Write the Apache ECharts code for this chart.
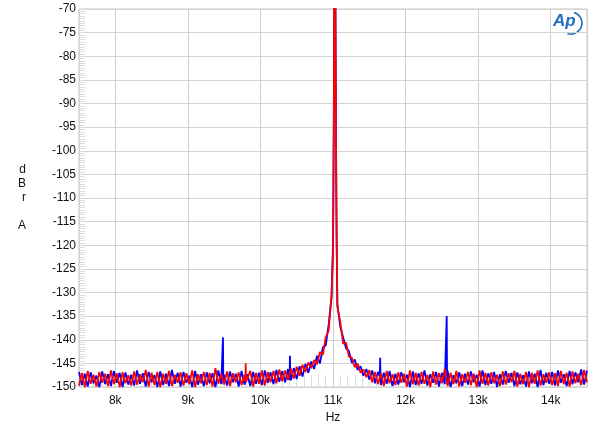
<!DOCTYPE html>
<html>
<head>
<meta charset="utf-8">
<script src="https://cdn.jsdelivr.net/npm/echarts/dist/echarts.min.js"></script>
<style>
html,body{margin:0;padding:0;background:#fff;}
#chart{width:600px;height:433px;}
</style>
</head>
<body>
<div id="chart"></div>
<script>
// FFT bin grid (Hz)
const binStart = 7500;
const binStep = 40;

// Blue channel levels (dBrA) per bin, 7500 .. 14500 Hz
const blueLevels = [
  -146.8, -149.6, -147.2, -149.9, -146.9, -149.2, -147.6, -150.0, -146.7, -149.4,
  -147.3, -149.8, -146.6, -149.1, -147.0, -150.0, -146.9, -149.5, -147.4, -149.7,
  -146.5, -149.3, -147.1, -149.9, -146.8, -149.0, -147.5, -150.0, -146.7, -149.6,
  -147.2, -149.8, -146.4, -149.3, -147.0, -149.9, -146.8, -149.1, -147.6, -150.0,
  -146.6, -149.5, -147.3, -149.8, -146.9, -149.2, -147.1, -150.0, -146.5, -149.4,
  -147.4, -149.7, -146.7, -149.0, -147.2, -149.9, -146.6, -149.5, -147.3, -149.8,
  -146.8, -149.3, -147.0, -149.6, -146.5, -149.1, -146.9, -149.4, -146.4, -148.9,
  -146.6, -149.0, -146.2, -148.6, -146.0, -148.3, -145.6, -147.8, -145.1, -147.0,
  -144.6, -146.2, -143.4, -145.0, -141.6, -141.2, -136.8, -131.0, -60.0, -132.5,
  -137.2, -139.5, -141.8, -142.4, -144.9, -144.2, -146.4, -145.6, -147.6, -146.2,
  -148.4, -146.5, -149.2, -146.8, -149.6, -147.0, -149.3, -146.6, -149.8, -147.2,
  -149.5, -146.9, -149.0, -147.4, -150.0, -146.7, -149.6, -147.1, -149.3, -146.5,
  -149.7, -147.3, -149.1, -146.8, -149.9, -147.0, -149.4, -146.6, -150.0, -147.5,
  -149.2, -146.9, -149.8, -147.2, -149.5, -146.7, -149.0, -147.4, -149.9, -146.5,
  -149.6, -147.1, -149.3, -146.8, -150.0, -147.3, -149.5, -146.6, -149.1, -147.0,
  -149.8, -146.9, -149.4, -147.5, -149.9, -146.7, -149.2, -147.2, -150.0, -146.4,
  -149.6, -147.0, -149.3, -146.8, -149.7, -146.5, -149.1, -147.3, -149.8, -146.6,
  -149.4, -146.9, -149.0, -146.3, -149.5, -146.5
];

// Red channel levels (dBrA) per bin, 7500 .. 14500 Hz
const redLevels = [
  -149.7, -147.0, -150.0, -146.6, -149.3, -147.4, -149.9, -146.8, -149.1, -147.2,
  -149.8, -146.5, -149.4, -147.1, -150.0, -146.9, -149.2, -147.5, -149.7, -146.7,
  -149.5, -147.3, -149.0, -146.4, -149.9, -147.0, -149.6, -146.8, -150.0, -147.2,
  -149.3, -146.6, -149.8, -147.4, -149.1, -146.9, -149.7, -147.1, -149.4, -146.5,
  -150.0, -147.3, -149.2, -146.8, -149.6, -147.0, -149.9, -146.0, -149.3, -147.2,
  -149.5, -146.7, -149.8, -147.1, -149.0, -146.9, -149.6, -147.4, -149.2, -146.6,
  -149.9, -147.0, -149.3, -146.5, -149.7, -146.8, -149.0, -146.6, -149.2, -146.3,
  -148.8, -146.5, -148.5, -146.1, -148.2, -145.7, -147.6, -145.3, -146.8, -144.8,
  -146.0, -144.3, -145.2, -142.6, -143.2, -139.5, -138.0, -130.5, -60.0, -133.0,
  -136.2, -140.8, -140.6, -143.6, -143.8, -145.8, -145.1, -147.0, -146.3, -147.9,
  -146.4, -149.0, -146.8, -149.4, -147.1, -149.8, -146.6, -149.2, -147.3, -149.6,
  -146.9, -149.1, -147.2, -149.9, -146.5, -149.4, -147.0, -149.7, -146.8, -149.3,
  -147.4, -150.0, -146.7, -149.5, -147.1, -149.2, -146.2, -149.8, -147.0, -149.4,
  -146.6, -149.9, -147.3, -149.1, -146.8, -149.6, -147.2, -150.0, -146.5, -149.3,
  -147.0, -149.7, -146.9, -149.2, -147.4, -149.8, -146.7, -149.5, -147.1, -149.0,
  -146.6, -149.9, -147.2, -149.4, -146.8, -150.0, -147.0, -149.3, -146.5, -149.7,
  -147.3, -149.1, -146.9, -149.6, -147.1, -149.8, -146.6, -149.4, -147.0, -149.9,
  -146.7, -149.2, -147.2, -149.6, -146.4, -149.0
];

// Fundamental peak shape (extra points, Hz / dBrA)
const bluePeak = [[11000, -120], [11010, -95], [11032, -62], [11042, -98], [11050, -118]];
const redPeak  = [[11001, -121], [11011, -96], [11031, -62], [11041, -99], [11050, -119]];

// Discrete spurious tones (Hz / dBrA)
const blueSpurs = [
  [9479, -149.0], [9484, -139.5], [9489, -149.2],
  [10402, -148.5], [10407, -143.4], [10412, -148.0],
  [11645, -147.8], [11650, -143.8], [11655, -148.2],
  [12562, -149.0], [12567, -135.0], [12572, -149.3]
];
const redSpurs = [
  [9792, -148.8], [9797, -145.0], [9802, -148.9]
];

// Axis settings
const yMin = -150, yMax = -70, yStep = 5;
const xMin = 7500, xMax = 14500;

function buildSeries(levels, extra) {
  const pts = levels.map((v, i) => [binStart + i * binStep, v]);
  return pts.concat(extra).sort((a, b) => a[0] - b[0]);
}

const chart = echarts.init(document.getElementById('chart'), null, {renderer: 'canvas'});
const font = 'Liberation Sans, Arial, sans-serif';

chart.setOption({
  animation: false,
  backgroundColor: '#ffffff',
  grid: {left: 79, right: 13, top: 9, bottom: 46, show: true, borderColor: '#c4c4c4', borderWidth: 1},
  xAxis: {
    type: 'value', min: xMin, max: xMax, splitNumber: 7,
    name: 'Hz', nameLocation: 'middle', nameGap: 23,
    nameTextStyle: {fontFamily: font, fontSize: 12, color: '#111'},
    axisLine: {show: false},
    axisTick: {show: false, inside: true, length: 12},
    minorTick: {show: true, splitNumber: 10, length: 12, lineStyle: {color: '#dcdcdc', width: 1}},
    axisLabel: {
      fontFamily: font, fontSize: 12, color: '#111', margin: 8,
      showMinLabel: false, showMaxLabel: false,
      formatter: v => (v % 1000 === 0 ? (v / 1000) + 'k' : '')
    },
    splitLine: {show: true, lineStyle: {color: '#cfcfcf', width: 1}}
  },
  yAxis: {
    type: 'value', min: yMin, max: yMax, interval: yStep,
    name: 'd\nB\nr\n\nA', nameLocation: 'middle', nameRotate: 0, nameGap: 53,
    nameTextStyle: {fontFamily: font, fontSize: 12, color: '#111', lineHeight: 14},
    axisLine: {show: false},
    axisTick: {show: true, inside: true, length: 6, lineStyle: {color: '#dcdcdc'}},
    minorTick: {show: true, splitNumber: 10, length: 6, lineStyle: {color: '#dcdcdc', width: 1}},
    axisLabel: {fontFamily: font, fontSize: 12, color: '#111', margin: 3},
    splitLine: {show: true, lineStyle: {color: '#d4d4d4', width: 1}}
  },
  series: [
    {
      type: 'line', name: 'Left', data: buildSeries(blueLevels, blueSpurs.concat(bluePeak)),
      showSymbol: false, symbol: 'none', clip: true,
      lineStyle: {color: '#0000ff', width: 1.8}, z: 3
    },
    {
      type: 'line', name: 'Right', data: buildSeries(redLevels, redSpurs.concat(redPeak)),
      showSymbol: false, symbol: 'none', clip: true,
      lineStyle: {color: '#ff0000', width: 1.8}, z: 4
    }
  ],
  graphic: [
    {
      type: 'group', left: 553, top: 10,
      children: [
        {type: 'text', x: 2, y: 1, style: {text: 'Ap', fontFamily: font, fontSize: 17, fontStyle: 'italic', fontWeight: 'bold', fill: '#1f6fc0'}},
        {type: 'arc', shape: {cx: 20, cy: 11, r: 11, startAngle: -1.3, endAngle: 1.9}, style: {stroke: '#1f6fc0', lineWidth: 1.5, fill: null}}
      ]
    }
  ]
});
</script>
</body>
</html>
